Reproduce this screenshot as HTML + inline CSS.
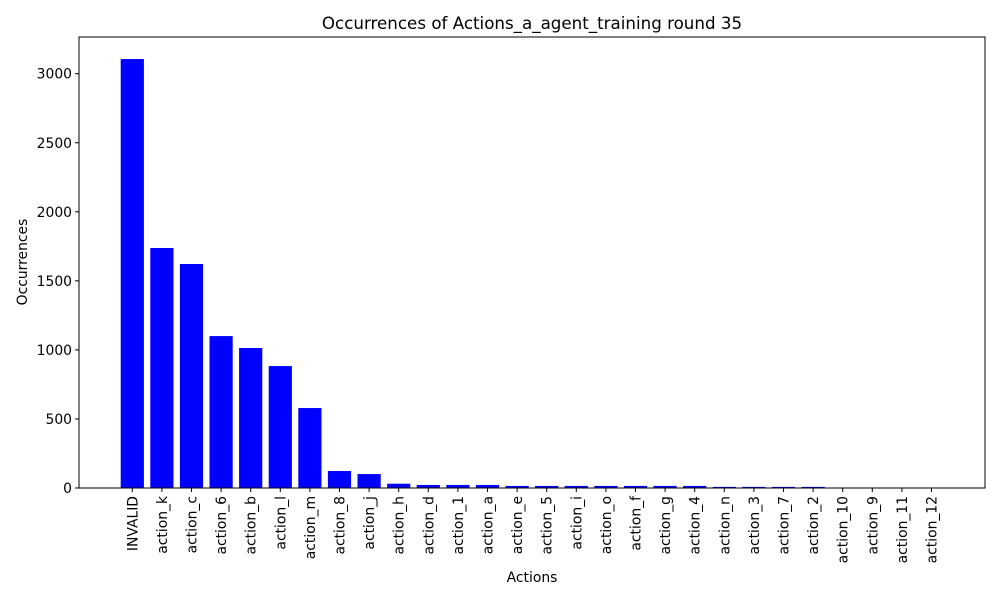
<!DOCTYPE html>
<html><head><meta charset="utf-8"><style>body{margin:0;background:#fff}svg{display:block;font-family:"DejaVu Sans","Liberation Sans",sans-serif}</style></head>
<body>
<svg id="chart" width="1000" height="600"></svg>
<script>
const categories=["INVALID","action_k","action_c","action_6","action_b","action_l","action_m","action_8","action_j","action_h","action_d","action_1","action_a","action_e","action_5","action_i","action_o","action_f","action_g","action_4","action_n","action_3","action_7","action_2","action_10","action_9","action_11","action_12"];
const values=[3106,1738,1622,1100,1014,883,579,123,101,31,22,22,22,15,15,15,15,15,15,15,8,8,8,8,0,0,0,0];
const yTicks=[0,500,1000,1500,2000,2500,3000];
const NS="http://www.w3.org/2000/svg";
const svg=document.getElementById('chart');
const L=79,R=985,T=37,B=488;
const x0=132.3,step=29.6,bw=23.2;
function xPos(i){return x0+i*step;}
function yPos(v){return B-v*(414.3/3000);}
function el(t,a,p){const e=document.createElementNS(NS,t);for(const k in a)e.setAttribute(k,a[k]);(p||svg).appendChild(e);return e;}
let t=el('text',{x:532,y:29,'text-anchor':'middle','font-size':16.7});t.textContent="Occurrences of Actions_a_agent_training round 35";


values.forEach((v,i)=>{
 const r=el('rect',{x:xPos(i)-bw/2,y:yPos(v),width:bw,height:B-yPos(v),fill:'#0000ff'});
 
 
});
el('rect',{x:L,y:T,width:R-L,height:B-T,fill:'none',stroke:'#000','stroke-width':1});
yTicks.forEach(v=>{
 const y=yPos(v);
 el('line',{x1:L-4,x2:L,y1:y,y2:y,stroke:'#000'});
 const tx=el('text',{x:L-7,y:y+5,'text-anchor':'end','font-size':13.9});tx.textContent=v;
 
 
});
categories.forEach((c,i)=>{
 const x=xPos(i);
 el('line',{x1:x,x2:x,y1:B,y2:B+4,stroke:'#000'});
 const tx=el('text',{x:0,y:0,'text-anchor':'end','font-size':13.9,transform:`translate(${x+5},${B+8}) rotate(-90)`});tx.textContent=c;
 
 
});
let xl=el('text',{x:532,y:582,'text-anchor':'middle','font-size':13.9});xl.textContent="Actions";


let yl=el('text',{x:0,y:0,'text-anchor':'middle','font-size':13.9,transform:'translate(27,262) rotate(-90)'});yl.textContent="Occurrences";


</script>
</body></html>
